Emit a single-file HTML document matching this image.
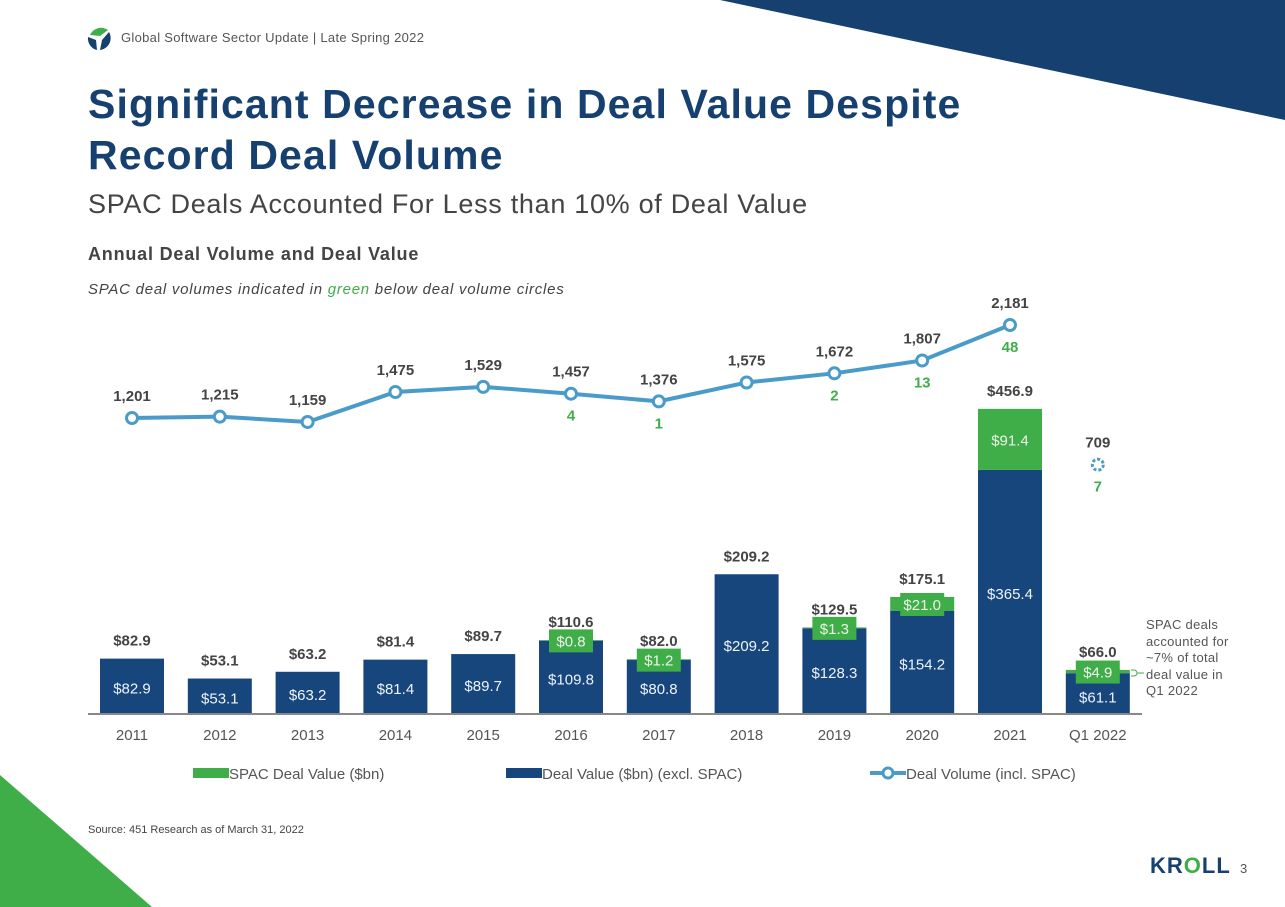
<!DOCTYPE html>
<html><head><meta charset="utf-8"><style>
body{margin:0;width:1285px;height:907px;overflow:hidden;background:#fff;font-family:"Liberation Sans",sans-serif;position:relative}
.abs{position:absolute}
</style></head><body>
<svg class="abs" style="left:0;top:0" width="1285" height="907">
<polygon points="720,0 1285,0 1285,120" fill="#16406f"/>
<polygon points="0,775 0,907 152,907" fill="#3fae49"/>
<g>
<path d="M90,35 A12,12 0 0 1 108,30 L100,36 Z" fill="#3fae49"/>
<path d="M109,32 A12,12 0 0 1 100,50 L102,40 Z" fill="#16406f"/>
<path d="M97,50 A12,12 0 0 1 88,37 L96,40 Z" fill="#16406f"/>
</g>
</svg>
<div class="abs" style="left:121px;top:30px;font-size:13px;letter-spacing:0.3px;color:#555">Global Software Sector Update | Late Spring 2022</div>
<div class="abs" style="left:88px;top:79px;font-size:41px;letter-spacing:1.1px;font-weight:bold;color:#16406f;line-height:51px">Significant Decrease in Deal Value Despite<br>Record Deal Volume</div>
<div class="abs" style="left:88px;top:189px;font-size:27px;letter-spacing:0.7px;color:#444">SPAC Deals Accounted For Less than 10% of Deal Value</div>
<div class="abs" style="left:88px;top:244px;font-size:18px;letter-spacing:0.8px;font-weight:bold;color:#444">Annual Deal Volume and Deal Value</div>
<div class="abs" style="left:88px;top:281px;font-size:15px;letter-spacing:0.75px;font-style:italic;color:#444">SPAC deal volumes indicated in <span style="color:#3fae49">green</span> below deal volume circles</div>
<div class="abs" style="left:1146px;top:617px;font-size:13px;letter-spacing:0.3px;color:#555;line-height:16.5px">SPAC deals<br>accounted for<br>~7% of total<br>deal value in<br>Q1 2022</div>
<div class="abs" style="left:88px;top:824px;font-size:11px;color:#444">Source: 451 Research as of March 31, 2022</div>
<div class="abs" style="left:1150px;top:853px;font-size:22px;font-weight:bold;color:#16406f;letter-spacing:1px">KR<span style="color:#3fae49">O</span>LL</div>
<div class="abs" style="left:1240px;top:861px;font-size:13px;color:#555">3</div>
<svg id="chart" class="abs" style="left:0;top:0" width="1285" height="907"></svg>
<script>
const categories=["2011","2012","2013","2014","2015","2016","2017","2018","2019","2020","2021","Q1 2022"];
const dealValue=[82.9,53.1,63.2,81.4,89.7,109.8,80.8,209.2,128.3,154.2,365.4,61.1];
const spacValue=[0,0,0,0,0,0.8,1.2,0,1.3,21.0,91.4,4.9];
const totalValue=[82.9,53.1,63.2,81.4,89.7,110.6,82.0,209.2,129.5,175.1,456.9,66.0];
const dealVolume=[1201,1215,1159,1475,1529,1457,1376,1575,1672,1807,2181,709];
const spacVolume=[null,null,null,null,null,4,1,null,2,13,48,7];
const svg=document.getElementById('chart');const NS='http://www.w3.org/2000/svg';
const X=i=>132+i*87.8, base=714, Yv=v=>base-v*0.668, Yl=v=>418-(v-1201)*0.0949, bw=64;
function mk(t,a,p){const e=document.createElementNS(NS,t);for(const k in a)e.setAttribute(k,a[k]);(p||svg).appendChild(e);return e;}
function tx(x,y,s,a,p){const e=mk('text',Object.assign({x:x,y:y,'text-anchor':'middle','font-family':'Liberation Sans, sans-serif'},a),p);e.textContent=s;return e;}
categories.forEach((c,i)=>{
 const g=mk('g',{});
 
 
 const x=X(i)-bw/2,yd=Yv(dealValue[i]),ys=Yv(dealValue[i]+spacValue[i]);
 const r=mk('rect',{x:x,y:yd,width:bw,height:base-yd,fill:'#16467b'},g);
 
 
 if(spacValue[i]>0){const s=mk('rect',{x:x,y:ys,width:bw,height:yd-ys,fill:'#3fae49'},g);
  
  
  const cy=(ys+yd)/2;
  if(spacValue[i]<40){mk('rect',{x:X(i)-22,y:cy-11,width:44,height:23,fill:'#3fae49'},g);}
  tx(X(i),cy+6,'$'+spacValue[i].toFixed(1),{'font-size':15,fill:'#eef3ea'},g);}
 const ly=spacValue[i]>0&&spacValue[i]<40?Math.max((yd+base)/2+7,Yv(dealValue[i]+spacValue[i]/2)+31):(yd+base)/2+7;
 tx(X(i),Math.max(ly,yd+20),'$'+dealValue[i].toFixed(1),{'font-size':15,fill:'#eef3fa'},g);
 tx(X(i),ys-13,'$'+totalValue[i].toFixed(1),{'font-size':15,'font-weight':'bold',fill:'#444'},g);
 tx(X(i),740,c,{'font-size':15,fill:'#555'},g);
});
mk('line',{x1:88,x2:1142,y1:base,y2:base,stroke:'#888','stroke-width':2});
let pts=dealVolume.slice(0,11).map((v,i)=>X(i)+','+Yl(v)).join(' ');
const pl=mk('polyline',{points:pts,fill:'none',stroke:'#4a9bc9','stroke-width':4});


dealVolume.forEach((v,i)=>{
 const c=mk('circle',{cx:X(i),cy:Yl(v),r:5.5,fill:'#fff',stroke:'#4a9bc9','stroke-width':3,'stroke-dasharray':i==11?'3 2':''});
 
 
 tx(X(i),Yl(v)-17,v.toLocaleString('en-US'),{'font-size':15,'font-weight':'bold',fill:'#444'});
 if(spacVolume[i]!=null)tx(X(i),Yl(v)+27,String(spacVolume[i]),{'font-size':15,'font-weight':'bold',fill:'#3fae49'});
});
mk('path',{d:'M1131,670 h3 a3,3 0 0 1 0,6 h-3 M1137,673 h7',fill:'none',stroke:'#3fae49','stroke-width':1});
const lg=mk('g',{});


mk('rect',{x:193,y:768,width:36,height:10,fill:'#3fae49'},lg);
tx(229,779,'SPAC Deal Value ($bn)',{'font-size':15,fill:'#555','text-anchor':'start'},lg);
mk('rect',{x:506,y:768,width:36,height:10,fill:'#16467b'},lg);
tx(542,779,'Deal Value ($bn) (excl. SPAC)',{'font-size':15,fill:'#555','text-anchor':'start'},lg);
mk('line',{x1:870,x2:906,y1:773,y2:773,stroke:'#4a9bc9','stroke-width':4},lg);
mk('circle',{cx:888,cy:773,r:5,fill:'#fff',stroke:'#4a9bc9','stroke-width':3},lg);
tx(906,779,'Deal Volume (incl. SPAC)',{'font-size':15,fill:'#555','text-anchor':'start'},lg);
</script>
</body></html>
